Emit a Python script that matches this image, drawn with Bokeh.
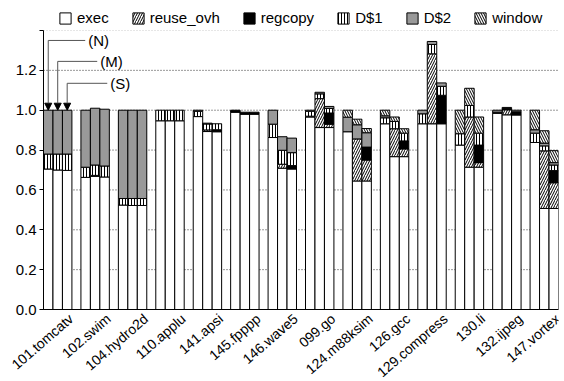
import numpy as np
from bokeh.plotting import figure
from bokeh.core.properties import value
from bokeh.models import (ColumnDataSource, Range1d, FixedTicker, PrintfTickFormatter,
                          Legend, LegendItem, LabelSet, Arrow, NormalHead)
from bokeh.embed import file_html
from bokeh.resources import INLINE

# ---------------- data ----------------
benchmarks = ["101.tomcatv", "102.swim", "104.hydro2d", "110.applu", "141.apsi",
              "145.fpppp", "146.wave5", "099.go", "124.m88ksim", "126.gcc",
              "129.compress", "130.li", "132.ijpeg", "147.vortex"]
configs = ["N", "M", "S"]
components = ["exec", "reuse_ovh", "regcopy", "D$1", "D$2", "window"]

exec_N = [0.705, 0.663, 0.524, 0.947, 0.968, 0.990, 0.863, 0.966, 0.892, 0.932, 0.932, 0.825, 0.985, 0.838]
exec_M = [0.700, 0.668, 0.522, 0.947, 0.893, 0.980, 0.709, 0.913, 0.645, 0.767, 0.932, 0.714, 0.977, 0.507]
exec_S = [0.698, 0.665, 0.522, 0.947, 0.892, 0.980, 0.705, 0.913, 0.645, 0.767, 0.932, 0.714, 0.976, 0.507]

reuse_N = [0, 0, 0, 0, 0, 0, 0, 0, 0, 0, 0, 0, 0, 0]
reuse_M = [0, 0.005, 0, 0, 0.008, 0, 0.020, 0.145, 0.211, 0.140, 0.351, 0.252, 0.025, 0.289]
reuse_S = [0, 0, 0, 0, 0, 0, 0, 0.017, 0.105, 0.039, 0.003, 0.023, 0, 0.129]

regcopy_N = [0, 0, 0, 0, 0, 0.007, 0, 0.004, 0, 0, 0, 0, 0.005, 0]
regcopy_M = [0, 0, 0, 0, 0, 0.010, 0, 0, 0, 0, 0, 0, 0.006, 0]
regcopy_S = [0, 0, 0, 0, 0.010, 0.010, 0.017, 0.056, 0.065, 0.040, 0.140, 0.088, 0.016, 0.061]

d1_N = [0.075, 0.051, 0.033, 0.053, 0.027, 0, 0.067, 0.025, 0, 0.030, 0.050, 0.057, 0, 0.047]
d1_M = [0.080, 0.052, 0.035, 0.053, 0.030, 0, 0.070, 0.024, 0, 0.037, 0.047, 0.058, 0, 0.025]
d1_S = [0.082, 0.055, 0.035, 0.053, 0.030, 0, 0.065, 0.023, 0, 0.039, 0.045, 0.060, 0, 0.028]

d2_N = [0.220, 0.286, 0.443, 0, 0.005, 0.003, 0.070, 0.005, 0.073, 0.010, 0.018, 0, 0.010, 0.017]
d2_M = [0.220, 0.285, 0.443, 0, 0.004, 0, 0.068, 0.008, 0.071, 0, 0.015, 0, 0.006, 0.014]
d2_S = [0.220, 0.285, 0.443, 0, 0, 0, 0.073, 0.010, 0.072, 0, 0.017, 0, 0.008, 0.012]

win_N = [0, 0, 0, 0, 0, 0, 0, 0, 0.035, 0.028, 0, 0.118, 0, 0.098]
win_M = [0, 0, 0, 0, 0, 0, 0, 0, 0.028, 0.022, 0, 0.086, 0, 0.062]
win_S = [0, 0, 0, 0, 0, 0, 0, 0, 0.021, 0.022, 0, 0.081, 0, 0.060]

y_ticks = [0.0, 0.2, 0.4, 0.6, 0.8, 1.0, 1.2, 1.4]
grid_ticks = [0.2, 0.4, 0.6, 0.8, 1.0, 1.2]

ann_labels = ["(N)", "(M)", "(S)"]
ann_y = [1.35, 1.245, 1.135]
ann_x_end = [0.735, 1.056, 1.324]

series = {
    "exec": [exec_N, exec_M, exec_S],
    "reuse_ovh": [reuse_N, reuse_M, reuse_S],
    "regcopy": [regcopy_N, regcopy_M, regcopy_S],
    "D$1": [d1_N, d1_M, d1_S],
    "D$2": [d2_N, d2_M, d2_S],
    "window": [win_N, win_M, win_S],
}

styles = {
    "exec": dict(fill_color="white"),
    "reuse_ovh": dict(fill_color="white", hatch_pattern="/", hatch_scale=5, hatch_weight=1, hatch_color="black"),
    "regcopy": dict(fill_color="black"),
    "D$1": dict(fill_color="white", hatch_pattern="|", hatch_scale=3, hatch_weight=1, hatch_color="black"),
    "D$2": dict(fill_color="#999999"),
    "window": dict(fill_color="white", hatch_pattern="\\", hatch_scale=5, hatch_weight=1, hatch_color="black"),
}

FONT = "Liberation Sans"
bar_w = 0.253
n = len(benchmarks)
y_max = 1.4

# layout (pixels): the frame covers the whole canvas; the value area sits inside it
W, H = 564, 381
left_px, right_px = 43, 6
top_px, bottom_px = 30, 72
ppu = (H - top_px - bottom_px) / y_max          # pixels per value unit
x_left = -1.5 * bar_w                           # left edge of first group
x_right = n - 1 + 1.5 * bar_w                   # right edge of last group
ppx = (W - left_px - right_px) / (x_right - x_left)
x_lo = x_left - left_px / ppx
y_lo = -bottom_px / ppu
y_hi = y_max + top_px / ppu

p = figure(width=W, height=H, output_backend="svg", toolbar_location=None, title=None,
           x_range=Range1d(x_lo, x_right), y_range=Range1d(y_lo, y_hi),
           min_border_left=0, min_border_right=right_px, min_border_bottom=0, min_border_top=0)
p.outline_line_color = None
p.background_fill_color = "white"
p.border_fill_color = "white"
p.xgrid.visible = False
p.ygrid.visible = False

# dotted grid lines across the value area only
p.segment(x0=[x_left] * len(grid_ticks), y0=grid_ticks, x1=[x_right] * len(grid_ticks), y1=grid_ticks,
          line_color="#333333", line_dash="1 2", line_width=1)
p.segment(x0=[x_left], y0=[y_max], x1=[x_right], y1=[y_max],
          line_color="#cccccc", line_dash="1 2", line_width=1)

# bars
idx = np.arange(n)
bottoms = [np.zeros(n) for _ in configs]
renderers = {}
for comp in components:
    xs, bs, ts = [], [], []
    for k in range(3):
        vals = np.array(series[comp][k], dtype=float)
        for i in range(n):
            if vals[i] > 0:
                xs.append(idx[i] + (k - 1) * bar_w)
                bs.append(bottoms[k][i])
                ts.append(bottoms[k][i] + vals[i])
        bottoms[k] = bottoms[k] + vals
    src = ColumnDataSource(dict(x=xs, bottom=bs, top=ts))
    r = p.vbar(x="x", bottom="bottom", top="top", width=bar_w, source=src,
               line_color="black", line_width=1, **styles[comp])
    renderers[comp] = r

# baseline (x axis line)
p.segment(x0=[x_left], y0=[0], x1=[x_right], y1=[0], line_color="black", line_width=1.2)

# y axis placed at the left edge of the value area
p.yaxis.fixed_location = x_left
p.yaxis.bounds = (0, y_max)
p.yaxis.ticker = FixedTicker(ticks=y_ticks)
p.yaxis.formatter = PrintfTickFormatter(format="%.1f")
p.yaxis.major_label_overrides = {1.4: ""}
p.yaxis.major_label_text_font = FONT
p.yaxis.major_label_text_font_size = "15px"
p.yaxis.major_label_text_color = "black"
p.yaxis.major_tick_in = 0
p.yaxis.major_tick_out = 4
p.yaxis.minor_tick_line_color = None
p.yaxis.major_label_standoff = 3
p.yaxis.axis_line_color = "black"
p.yaxis.major_tick_line_color = "black"
p.xaxis.visible = False

# rotated category labels
label_dx = 0.36
label_y = -7 / ppu
lab_src = ColumnDataSource(dict(x=list(idx + label_dx), y=[label_y] * n, text=benchmarks))
p.add_layout(LabelSet(x="x", y="y", text="text", source=lab_src, angle=41, angle_units="deg",
                      text_align="right", text_baseline="middle", text_font=value(FONT),
                      text_font_size=value("14px"), text_color="black"))

# (N), (M), (S) annotations on the first group
bar_x0 = [idx[0] + (k - 1) * bar_w for k in range(3)]
bar_top0 = [bottoms[k][0] for k in range(3)]
p.segment(x0=bar_x0, y0=ann_y, x1=ann_x_end, y1=ann_y, line_color="#555555", line_width=1)
for k in range(3):
    p.add_layout(Arrow(end=NormalHead(size=7, fill_color="black", line_color="black"),
                       x_start=bar_x0[k], y_start=ann_y[k], x_end=bar_x0[k], y_end=bar_top0[k],
                       line_color="#555555", line_width=1))
ann_src = ColumnDataSource(dict(x=[v + 0.08 for v in ann_x_end], y=ann_y, text=ann_labels))
p.add_layout(LabelSet(x="x", y="y", text="text", source=ann_src, text_align="left",
                      text_baseline="middle", text_font=value(FONT), text_font_size=value("15px"),
                      text_color="black"))

# legend at the top
items = [LegendItem(label=c, renderers=[renderers[c]]) for c in components]
legend = Legend(items=items, orientation="horizontal", location=(left_px + 15, H - 26), padding=0, margin=0,
                spacing=22, label_standoff=5, glyph_width=14, glyph_height=14, label_height=14,
                label_text_font=FONT, label_text_font_size="15px", label_text_color="black",
                border_line_color=None, background_fill_alpha=0)
p.add_layout(legend)

open("out.html", "w").write(file_html(p, INLINE))
